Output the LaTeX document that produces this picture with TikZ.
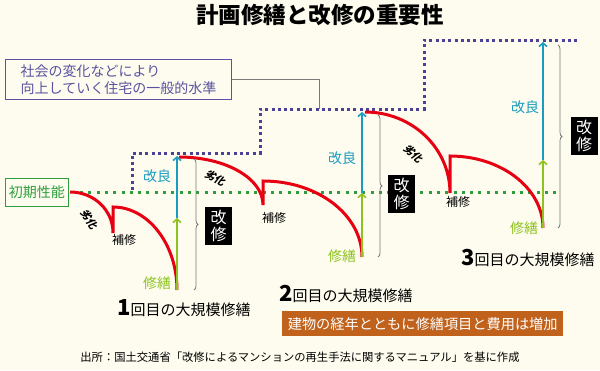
\documentclass[tikz,border=0pt]{standalone}
\usepackage{fontspec}
\setmainfont{Noto Sans CJK JP}
\newfontfamily\rekka{Noto Sans CJK JP}[FakeSlant=0.2]
\usetikzlibrary{arrows.meta,decorations.pathreplacing}
\definecolor{bg}{HTML}{FEFCEF}
\definecolor{lvl}{HTML}{4B4298}
\definecolor{lvltext}{HTML}{5A52A0}
\definecolor{initg}{HTML}{2E9E3C}
\definecolor{redc}{HTML}{E60012}
\definecolor{bluec}{HTML}{1A9CBE}
\definecolor{greenc}{HTML}{8DC21F}
\definecolor{orangec}{HTML}{C0621C}
\definecolor{grayc}{HTML}{7A7A7A}
\tikzset{
  redline/.style={draw=redc, line width=3pt, line join=miter},
  garrow/.style={draw=greenc, line width=1.6pt, -{Straight Barb[length=3.5pt,width=8pt]}},
  barrow/.style={draw=bluec, line width=1.6pt, -{Straight Barb[length=3.5pt,width=8pt]}},
  bracec/.style={draw=grayc, line width=0.8pt, decorate, decoration={brace, amplitude=4pt}},
  kaishu/.style={fill=black, text=white, minimum width=27pt, minimum height=38pt, inner sep=0pt, align=center, font=\fontsize{16}{17}\selectfont},
  kairyo/.style={text=bluec, font=\fontsize{14}{14}\selectfont, inner sep=0pt},
  shuzen/.style={text=greenc, font=\fontsize{14}{14}\selectfont, inner sep=0pt},
  hoshu/.style={text=black, font=\fontsize{12}{12}\selectfont, inner sep=0pt},
  rekkalbl/.style={text=black, font=\rekka\bfseries\fontsize{10.5}{10.5}\selectfont, inner sep=0pt},
  roundlbl/.style={anchor=west, inner sep=0pt, text=black},
}
\begin{document}
\begin{tikzpicture}[x=1pt,y=-1pt]
\fill[bg] (0,0) rectangle (600,370);
\useasboundingbox (0,0) rectangle (600,370);

% title
\node[font=\bfseries\fontsize{22.5}{22.5}\selectfont, inner sep=0pt] (title) at (320,15) {計画修繕と改修の重要性};

% level label
\node[draw=lvltext, line width=1pt, fill=bg, text=lvltext, align=left, anchor=north west,
      minimum width=226pt, minimum height=40pt, inner xsep=10pt, inner ysep=0pt,
      font=\fontsize{14}{17}\selectfont] (lbl) at (5,59) {社会の変化などにより\\向上していく住宅の一般的水準};
\coordinate (conn) at (319,109);
\draw[grayc, line width=0.8pt] (lbl.east) -| (conn);

% initial performance
\node[draw=initg, line width=1pt, fill=bg, text=initg, anchor=north west,
      minimum width=63pt, minimum height=28pt, inner sep=0pt,
      font=\fontsize{14}{14}\selectfont] (init) at (5,178) {初期性能};
\coordinate (gs) at (80,192);
\coordinate (ge) at (558,192);
\draw[initg, line width=3pt, dash pattern=on 3pt off 5.3pt] (gs) -- (ge);

% level dotted step line
\coordinate (p0) at (132,190);
\coordinate (p1) at (132,153);
\coordinate (p2) at (260,153);
\coordinate (p3) at (260,109);
\coordinate (p4) at (424,109);
\coordinate (p5) at (424,40);
\coordinate (p6) at (578,40);
\draw[lvl, line width=3pt, dash pattern=on 3pt off 3.3pt] (p0) -- (p1) -- (p2) -- (p3) -- (p4) -- (p5) -- (p6);

% red performance curves
\coordinate (a0) at (70,192);
\coordinate (a1) at (113,233);
\coordinate (a2) at (113,207);
\coordinate (a3) at (177,290);
\coordinate (b0) at (179,157);
\coordinate (b1) at (263,205);
\coordinate (b2) at (263,181);
\coordinate (b3) at (362,257);
\coordinate (c0) at (365,112);
\coordinate (c1) at (450,193);
\coordinate (c2) at (450,156);
\coordinate (c3) at (543,228);
\draw[redline] (a0) .. controls +(24,0) and +(0,-23) .. (a1) -- (a2) .. controls +(35,0) and +(0,-46) .. (a3);
\draw[redline] (b0) .. controls +(46,0) and +(0,-27) .. (b1) -- (b2) .. controls +(55,0) and +(0,-42) .. (b3);
\draw[redline] (c0) .. controls +(47,0) and +(0,-45) .. (c1) -- (c2) .. controls +(51,0) and +(0,-40) .. (c3);

% arrows
\coordinate (g1) at (177,290);
\coordinate (m1) at (177,218);
\coordinate (t1) at (177,156);
\coordinate (g2) at (362,257);
\coordinate (m2) at (362,193);
\coordinate (t2) at (362,112);
\coordinate (g3) at (543,228);
\coordinate (m3) at (543,160);
\coordinate (t3) at (543,42);
\draw[garrow] (g1) -- (m1);
\draw[barrow] (m1) -- (t1);
\draw[garrow] (g2) -- (m2);
\draw[barrow] (m2) -- (t2);
\draw[garrow] (g3) -- (m3);
\draw[barrow] (m3) -- (t3);

% braces
\coordinate (br1t) at (194,159);
\coordinate (br1b) at (194,290);
\coordinate (br2t) at (378,115);
\coordinate (br2b) at (378,257);
\coordinate (br3t) at (558,45);
\coordinate (br3b) at (558,228);
\draw[bracec] (br1t) -- (br1b);
\draw[bracec] (br2t) -- (br2b);
\draw[bracec] (br3t) -- (br3b);

% kaishu boxes
\node[kaishu] (k1) at (218.5,226) {改\\修};
\node[kaishu] (k2) at (401.5,194) {改\\修};
\node[kaishu] (k3) at (584,136) {改\\修};

% labels
\node[kairyo] (kr1) at (157,176) {改良};
\node[kairyo] (kr2) at (342,158) {改良};
\node[kairyo] (kr3) at (525,107) {改良};
\node[shuzen] (sz1) at (157,283) {修繕};
\node[shuzen] (sz2) at (342,256) {修繕};
\node[shuzen] (sz3) at (524,228) {修繕};
\node[hoshu] (hs1) at (124,240) {補修};
\node[hoshu] (hs2) at (274,218) {補修};
\node[hoshu] (hs3) at (458,202) {補修};
\node[rekkalbl, rotate=-56] (rk1) at (89,219) {劣化};
\node[rekkalbl, rotate=-27] (rk2) at (215,178) {劣化};
\node[rekkalbl, rotate=-42] (rk3) at (413,154) {劣化};

% rounds
\node[roundlbl] (r1) at (117,308) {{\bfseries\fontsize{22}{22}\selectfont 1}{\fontsize{15}{15}\selectfont 回目の大規模修繕}};
\node[roundlbl] (r2) at (279,294) {{\bfseries\fontsize{22}{22}\selectfont 2}{\fontsize{15}{15}\selectfont 回目の大規模修繕}};
\node[roundlbl] (r3) at (461,258) {{\bfseries\fontsize{22}{22}\selectfont 3}{\fontsize{15}{15}\selectfont 回目の大規模修繕}};

% orange note
\node[fill=orangec, text=white, anchor=north west, minimum width=281pt, minimum height=25pt, inner sep=0pt,
      font=\fontsize{14.2}{14.2}\selectfont] (note) at (282,311) {建物の経年とともに修繕項目と費用は増加};

% source
\node[font=\fontsize{11.3}{11.3}\selectfont, inner sep=0pt] (src) at (300,357) {出所：国土交通省「改修によるマンションの再生手法に関するマニュアル」を基に作成};
\end{tikzpicture}
\end{document}
